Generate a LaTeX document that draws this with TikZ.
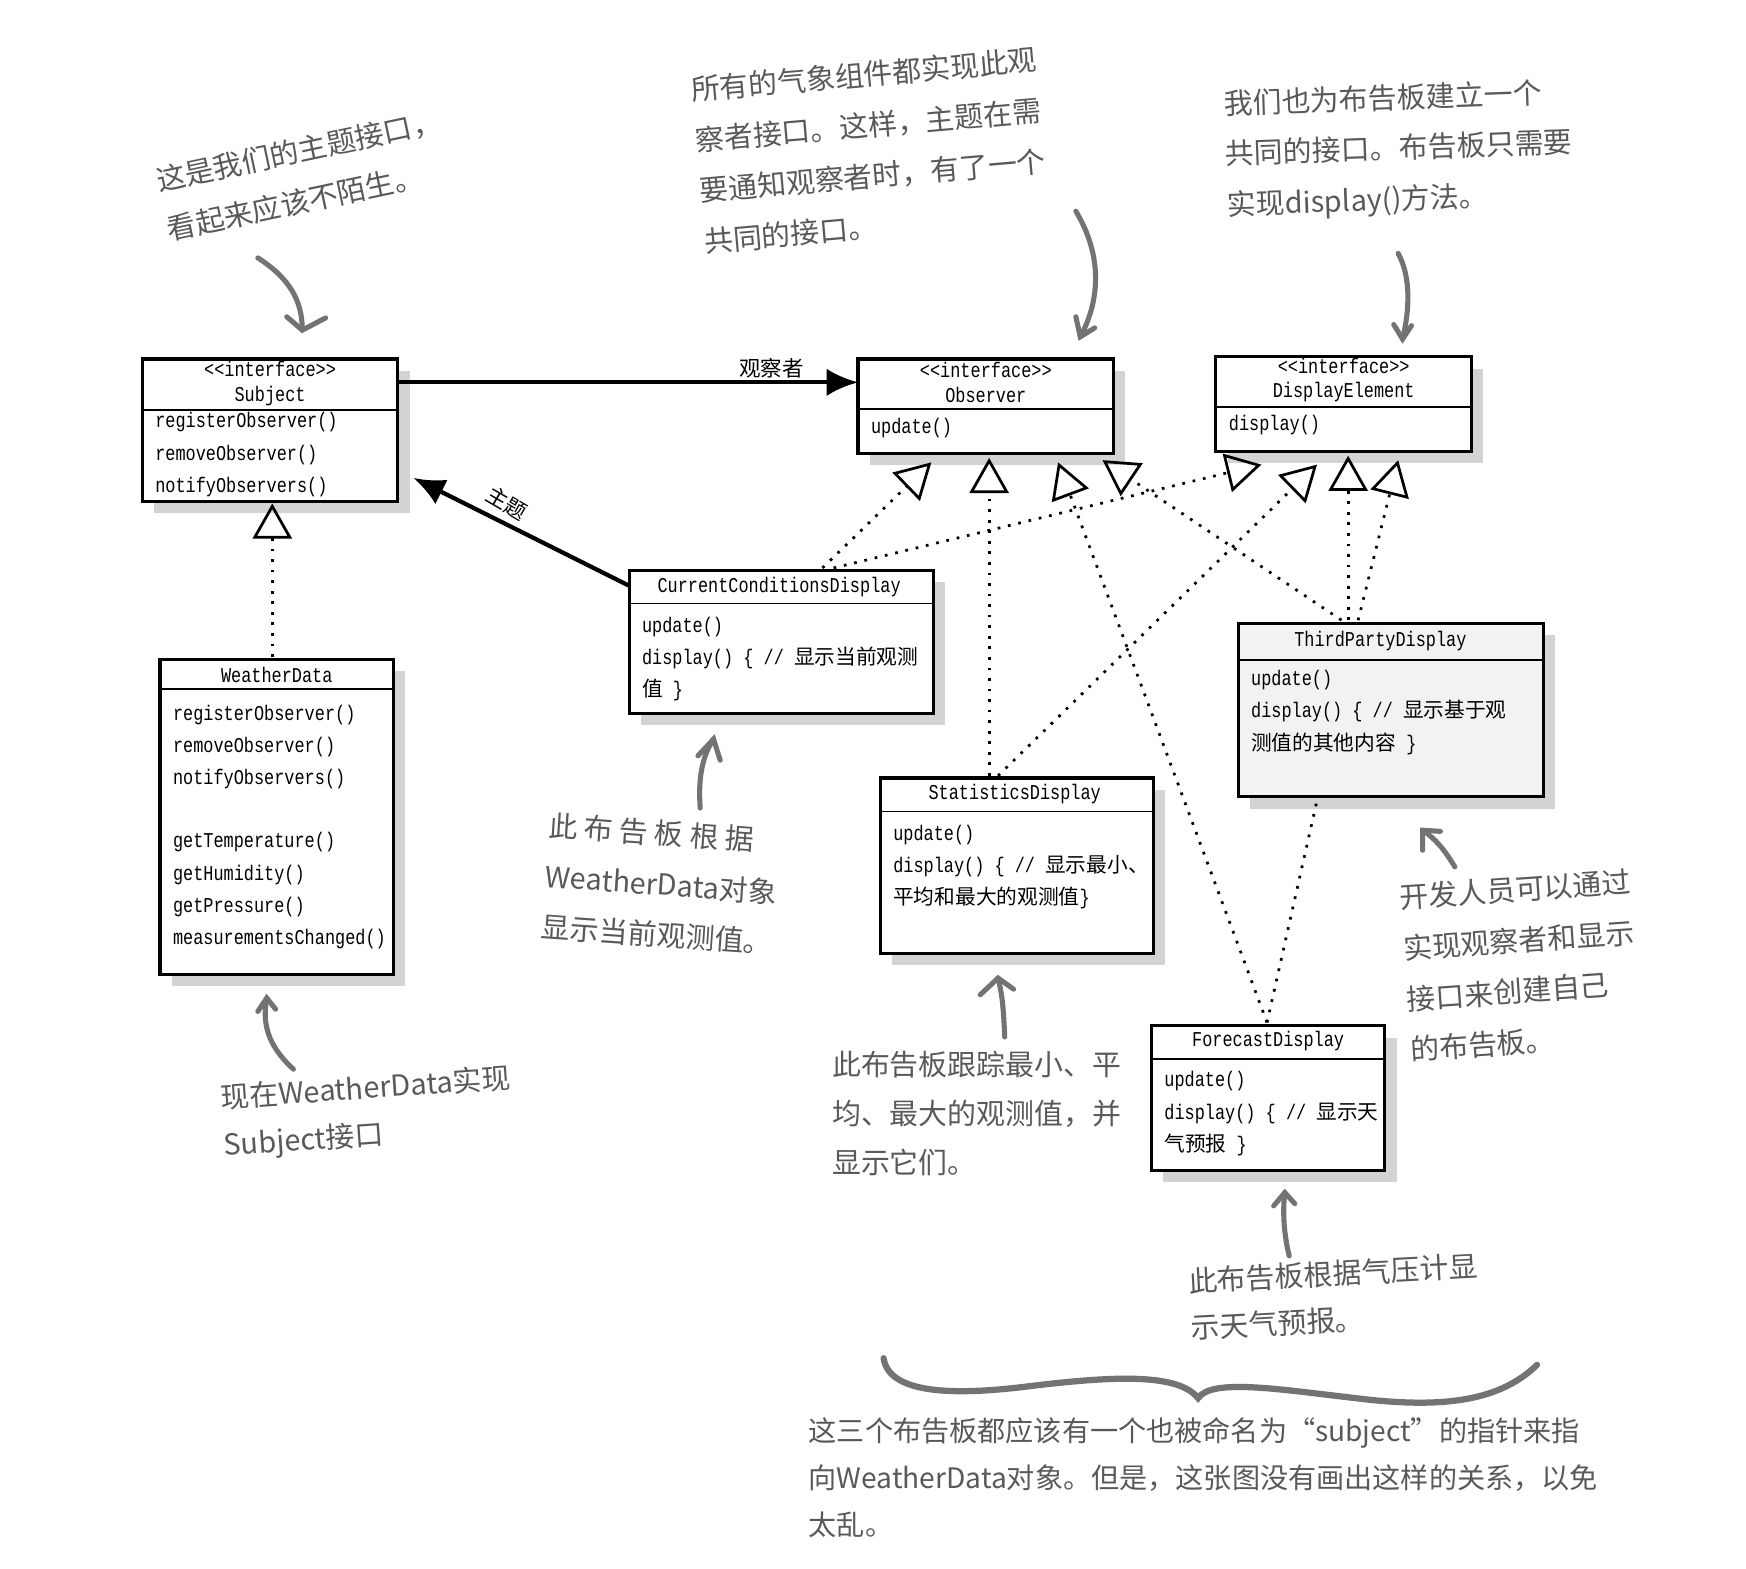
\documentclass[tikz,border=0pt]{standalone}
\usepackage{fontspec}
\setmainfont{Liberation Serif}
\newfontfamily\cjk{Noto Sans CJK SC}
\newfontfamily\boxfont[FakeStretch=0.8]{Liberation Mono}
\newcommand\zh[1]{{\cjk\fontsize{5.3}{8}\selectfont #1}}
\usetikzlibrary{arrows.meta,shadows}
\begin{document}
\begin{tikzpicture}[x=0.01cm,y=-0.01cm,
  cls/.style={draw,line width=0.8pt,fill=white,drop shadow={shadow xshift=3pt,shadow yshift=-3pt,opacity=0.35}},
  txt/.style={font=\fontsize{5.4}{8}\selectfont\boxfont,anchor=west,inner sep=0},
  ttl/.style={font=\fontsize{5.4}{6.2}\selectfont\boxfont,anchor=center,inner sep=0,align=center},
  note/.style={font=\fontsize{7.4}{12}\selectfont\cjk,text=black!65,align=left,anchor=north west,inner sep=0},
  real/.style={dotted,line width=0.7pt,-{Triangle[open,length=9pt,width=10pt]}},
  hand/.style={draw=black!55,line width=1.3pt,line cap=round},
  assoc/.style={line width=1.1pt,-{Latex[length=8pt,width=7pt]}}]
\useasboundingbox (0,0) rectangle (1571,1411);
% boxes
\path[cls] (128,323) rectangle (358,451); \draw (128,369)--(358,369);
\coordinate (subjR) at (358,344);
\node[ttl] (subj) at (243,345) {<<interface>>\\Subject};
\node[txt] at (139,380) {registerObserver()};
\node[txt] at (139,409) {removeObserver()};
\node[txt] at (139,438) {notifyObservers()};
\path[cls] (772,323) rectangle (1002,408); \draw (772,368)--(1002,368);
\coordinate (obsL) at (772,344);
\node[ttl] (obs) at (887,344) {<<interface>>\\Observer};
\node[txt] at (783,385) {update()};
\path[cls] (1094,321) rectangle (1324,406); \draw (1094,366)--(1324,366);
\node[ttl] (de) at (1209,342) {<<interface>>\\DisplayElement};
\node[txt] at (1105,382) {display()};
\path[cls] (566,513) rectangle (840,642); \draw (566,543)--(840,543);
\node[ttl] (ccd) at (701,528) {CurrentConditionsDisplay};
\coordinate (ccdL) at (566,527);
\node[txt] at (577,564) {update()};
\node[txt] at (577,592) {display() \{ // \zh{显示当前观测}};
\node[txt] at (577,621) {\zh{值} \}};
\path[cls] (144,593) rectangle (354,877); \draw (144,620)--(354,620);
\node[ttl] (wd) at (249,607) {WeatherData};
\foreach \t/\y in {registerObserver()/643,removeObserver()/672,notifyObservers()/701,getTemperature()/758,getHumidity()/787,getPressure()/816,measurementsChanged()/845}
  \node[txt] at (155,\y) {\t};
\path[cls,fill=black!5] (1114,561) rectangle (1389,717); \draw (1114,594)--(1389,594);
\node[ttl] (tp) at (1242,577) {ThirdPartyDisplay};
\node[txt] at (1125,612) {update()};
\node[txt] at (1125,640) {display() \{ // \zh{显示基于观}};
\node[txt] at (1125,669) {\zh{测值的其他内容} \}};
\path[cls] (792,700) rectangle (1038,858); \draw (792,730)--(1038,730);
\node[ttl] (st) at (913,714) {StatisticsDisplay};
\node[txt] at (803,751) {update()};
\node[txt] at (803,779) {display() \{ // \zh{显示最小、}};
\node[txt] at (803,808) {\zh{平均和最大的观测值}\}};
\path[cls] (1036,923) rectangle (1246,1053); \draw (1036,953)--(1246,953);
\node[ttl] (fc) at (1141,937) {ForecastDisplay};
\node[txt] at (1047,973) {update()};
\node[txt] at (1047,1002) {display() \{ // \zh{显示天}};
\node[txt] at (1047,1030) {\zh{气预报} \}};
% coordinates
\coordinate (wdT) at (245,591); \coordinate (subjB) at (245,453);
\coordinate (ccdT1) at (740,511); \coordinate (ccdT2) at (750,511);
\coordinate (stT1) at (890,698); \coordinate (stT2) at (898,698);
\coordinate (tpT1) at (1207,558); \coordinate (tpT2) at (1213,558); \coordinate (tpT3) at (1222,558);
\coordinate (fcT) at (1140,920); \coordinate (tpB) at (1185,720);
% associations
\draw[assoc] (subjR) -- (obsL);
\node[font=\fontsize{5.5}{7}\selectfont\cjk] (l1) at (694,331) {观察者};
\draw[assoc] (ccdL) -- (372,430);
\node[font=\fontsize{5.5}{7}\selectfont\cjk,rotate=-30] (l2) at (456,453) {主题};
% realizations
\draw[real] (wdT) -- (subjB);
\draw[real] (ccdT1) -- (838,416);
\draw[real] (ccdT2) -- (1135,418);
\draw[real] (stT1) -- (890,412);
\draw[real] (stT2) -- (1185,418);
\draw[real] (tpT1) -- (992,414);
\draw[real] (tpT2) -- (1213,410);
\draw[real] (tpT3) -- (1258,414);
\draw[real] (fcT) -- (952,416);
\draw[dotted,line width=0.7pt] (fcT) -- (tpB);
% notes
\node[note,rotate=12,font=\fontsize{7.4}{13}\selectfont\cjk] at (138,150) {这是我们的主题接口，\\看起来应该不陌生。};
\node[note,rotate=5,font=\fontsize{7.4}{13}\selectfont\cjk] at (620,68) {所有的气象组件都实现此观\\察者接口。这样，主题在需\\要通知观察者时，有了一个\\共同的接口。};
\node[note,rotate=2,font=\fontsize{7.4}{13}\selectfont\cjk] at (1100,80) {我们也为布告板建立一个\\共同的接口。布告板只需要\\实现display()方法。};
\node[note,rotate=-4,font=\fontsize{7.4}{13}\selectfont\cjk] at (494,730) {此 布 告 板 根 据\\WeatherData对象\\显示当前观测值。};
\node[note,rotate=4] at (197,975) {现在WeatherData实现\\Subject接口};
\node[note,font=\fontsize{7.4}{12.5}\selectfont\cjk] at (748,945) {此布告板跟踪最小、平\\均、最大的观测值，并\\显示它们。};
\node[note,rotate=4,font=\fontsize{7.4}{13}\selectfont\cjk] at (1258,795) {开发人员可以通过\\实现观察者和显示\\接口来创建自己\\的布告板。};
\node[note,rotate=3] at (1068,1140) {此布告板根据气压计显\\示天气预报。};
\node[note,font=\fontsize{7.2}{12}\selectfont\cjk] at (727,1275) {这三个布告板都应该有一个也被命名为“subject”的指针来指\\向WeatherData对象。但是，这张图没有画出这样的关系，以免\\太乱。};
% hand arrows
\draw[hand] (232,232) .. controls (260,250) and (272,270) .. (272,297);
\draw[hand] (258,285) -- (272,297) -- (293,286);
\draw[hand] (968,190) .. controls (992,230) and (990,270) .. (972,303);
\draw[hand] (968,285) -- (972,303) -- (985,295);
\draw[hand] (1258,228) .. controls (1270,250) and (1268,280) .. (1262,305);
\draw[hand] (1254,292) -- (1262,305) -- (1270,293);
\draw[hand] (630,727) .. controls (628,700) and (632,680) .. (642,665);
\draw[hand] (628,680) -- (642,665) -- (648,684);
\draw[hand] (264,962) .. controls (240,940) and (236,920) .. (240,898);
\draw[hand] (232,910) -- (240,898) -- (248,908);
\draw[hand] (904,933) .. controls (903,910) and (902,895) .. (898,880);
\draw[hand] (882,895) -- (898,880) -- (912,890);
\draw[hand] (1309,780) .. controls (1300,765) and (1292,755) .. (1280,747);
\draw[hand] (1280,765) -- (1280,747) -- (1296,748);
\draw[hand] (1160,1130) .. controls (1155,1110) and (1154,1090) .. (1156,1073);
\draw[hand] (1146,1085) -- (1156,1073) -- (1165,1083);
% brace
\draw[hand,line width=1.6pt] (795,1222) .. controls (800,1255) and (860,1255) .. (920,1248) .. controls (1000,1238) and (1060,1235) .. (1078,1258) .. controls (1090,1240) and (1150,1250) .. (1220,1258) .. controls (1300,1268) and (1350,1260) .. (1383,1228);
\end{tikzpicture}
\end{document}
